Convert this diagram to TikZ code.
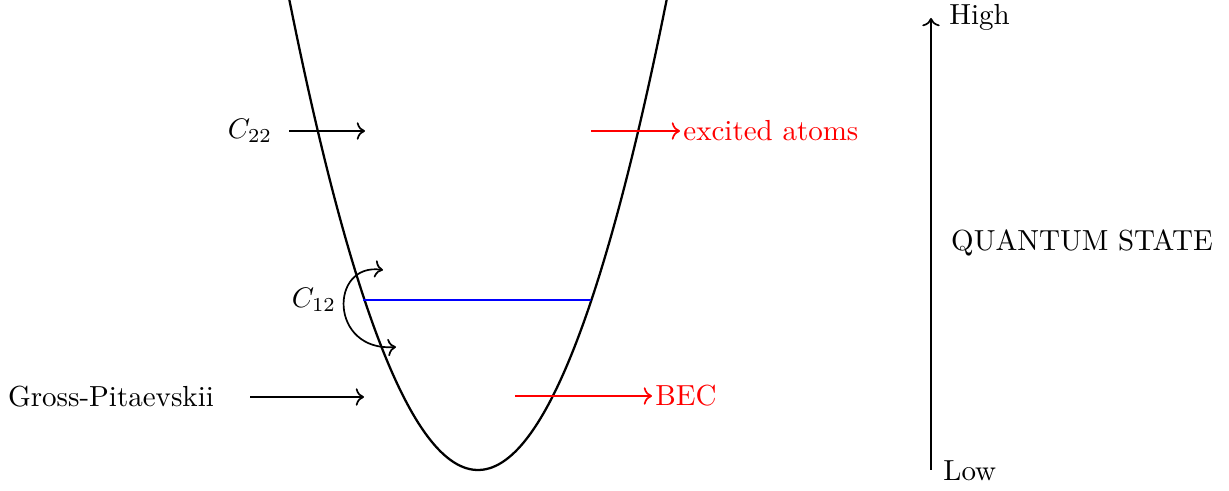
\documentclass[tikz,border=0pt]{standalone}
\usetikzlibrary{arrows.meta}
\begin{document}
\begin{tikzpicture}[x=0.3533pt,y=-0.3533pt,
  arr/.style={->,semithick},
  redarr/.style={->,semithick,red},
  lbl/.style={inner sep=1pt,font=\fontsize{10.25}{12.3}\selectfont}]
\useasboundingbox (0,0) rectangle (1229,491);
% parabola
\draw[thick] plot[domain=-1.92:1.92,samples=120,smooth] ({478+99.5*\x},{470-130.8*\x*\x});
% blue level
\coordinate (bl) at (363,300);
\coordinate (br) at (591,300);
\draw[semithick,blue] (bl) -- (br);
% C22
\node[lbl] (c22) at (250,131) {$C_{22}$};
\coordinate (c22s) at (289,131);
\coordinate (c22e) at (365,131);
\draw[arr] (c22s) -- (c22e);
% excited atoms
\coordinate (exs) at (591,131);
\node[lbl,red,anchor=west] (ex) at (680,131) {excited atoms};
\draw[redarr] (exs) -- (ex.west);
% C12
\node[lbl] (c12) at (314,300) {$C_{12}$};
\coordinate (c12a) at (383,270);
\coordinate (c12b) at (396,347);
\draw[<->,semithick] (c12a) .. controls (329,262) and (329,352) .. (c12b);
% Gross-Pitaevskii
\node[lbl] (gp) at (111,397) {Gross-Pitaevskii};
\coordinate (gps) at (250,397);
\coordinate (gpe) at (364,397);
\draw[arr] (gps) -- (gpe);
% BEC
\coordinate (becs) at (515,396);
\node[lbl,red,anchor=west] (bec) at (652,396) {BEC};
\draw[redarr] (becs) -- (bec.west);
% axis
\coordinate (lo) at (931,470);
\coordinate (hi) at (931,18);
\draw[arr] (lo) -- (hi);
\node[lbl,anchor=west] (high) at (946,17) {High};
\node[lbl,anchor=west] (low) at (940,471) {Low};
\node[lbl] (qs) at (1082,243) {QUANTUM STATE};
\end{tikzpicture}
\end{document}
